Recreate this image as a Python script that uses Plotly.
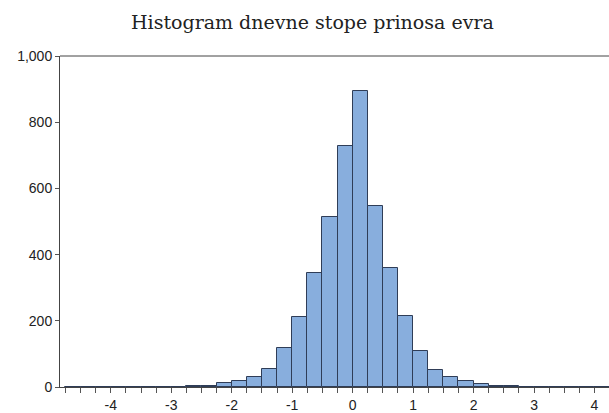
import plotly.graph_objects as go

# Lower edges of the 0.25-wide bins of daily euro returns
bin_left = [-4.75, -4.50, -4.25, -4.00, -3.75, -3.50, -3.25, -3.00, -2.75,
            -2.50, -2.25, -2.00, -1.75, -1.50, -1.25, -1.00, -0.75, -0.50,
            -0.25, 0.00, 0.25, 0.50, 0.75, 1.00, 1.25, 1.50, 1.75,
            2.00, 2.25, 2.50, 2.75, 3.00, 3.25, 3.50, 3.75, 4.00]
bin_width = 0.25
counts = [1, 0, 0, 0, 1, 0, 0, 1, 3,
          3, 12, 17, 29, 54, 119, 213, 345, 513,
          727, 895, 546, 361, 216, 108, 52, 29, 17,
          10, 3, 2, 0, 0, 0, 0, 1, 1]

x_ticks = [-4, -3, -2, -1, 0, 1, 2, 3, 4]
x_tick_labels = ["-4", "-3", "-2", "-1", "0", "1", "2", "3", "4"]
y_ticks = [0, 200, 400, 600, 800, 1000]
y_tick_labels = ["0", "200", "400", "600", "800", "1,000"]

centers = [b + bin_width / 2 for b in bin_left]

fig = go.Figure(go.Bar(
    x=centers,
    y=counts,
    width=bin_width,
    marker=dict(color="#88AEDD", line=dict(color="#2F3D57", width=1)),
    hoverinfo="x+y",
))

axis_font = dict(family="Liberation Sans, Arial, sans-serif", size=14, color="#222")

fig.update_layout(
    width=609,
    height=413,
    margin=dict(l=60, r=0, t=56, b=24),
    paper_bgcolor="white",
    plot_bgcolor="white",
    showlegend=False,
    bargap=0,
    title=dict(
        text="Histogram dnevne stope prinosa evra",
        font=dict(family="DejaVu Serif, serif", size=19, color="#222"),
        x=0.513, xanchor="center", y=0.945, yanchor="middle",
    ),
    xaxis=dict(
        range=[-4.84, 4.24],
        tickvals=x_ticks,
        ticktext=x_tick_labels,
        ticks="outside", ticklen=5, tickcolor="#555",
        minor=dict(dtick=0.25, tick0=0, ticks="outside", ticklen=5, tickcolor="#555"),
        showgrid=False, zeroline=False,
        showline=True, linecolor="#444", linewidth=1,
        tickfont=axis_font,
        mirror=False,
    ),
    yaxis=dict(
        range=[0, 1000],
        tickvals=y_ticks,
        ticktext=y_tick_labels,
        ticks="outside", ticklen=4, tickcolor="#555",
        showgrid=False, zeroline=False,
        showline=True, linecolor="#444", linewidth=1,
        tickfont=axis_font,
    ),
    shapes=[dict(type="line", xref="paper", yref="paper", x0=0, x1=1, y0=1, y1=1,
                 line=dict(color="#444", width=1))],
)

fig.write_html("out.html")
